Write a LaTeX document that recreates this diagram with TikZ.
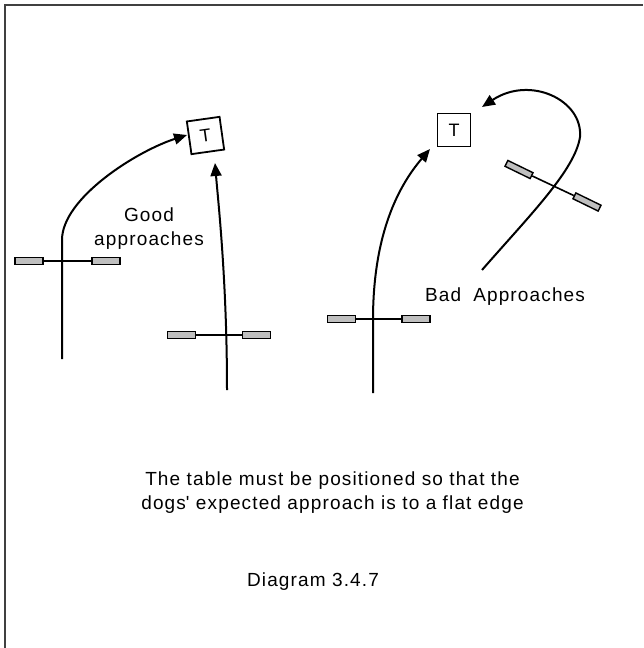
\documentclass[tikz,border=0pt]{standalone}
\usepackage{fontspec}
\setmainfont{Liberation Sans}
\usetikzlibrary{arrows.meta}
\begin{document}
\begin{tikzpicture}[x=1pt,y=-1pt,
  route/.style={line width=2pt, -{Triangle[length=13pt,width=11pt]}},
  slat/.style={draw, line width=1.4pt, fill=gray!50, minimum width=28pt, minimum height=6.5pt, inner sep=0pt},
  bar/.style={line width=1.6pt},
  tbl/.style={draw, line width=1.8pt, minimum size=33pt, inner sep=0pt, font=\fontsize{18}{20}\selectfont},
  lbl/.style={font=\fontsize{19}{24}\selectfont\addfontfeature{LetterSpace=6}, align=center, inner sep=0pt},
  frame/.style={line width=1.6pt, draw=black!75}
]
\useasboundingbox (0,0) rectangle (643,648);
\draw[frame] (5,648) -- (5,5) -- (643,5);

% tables
\node[tbl, rotate=8] (t1) at (205.5,135.5) {T};
\node[tbl] (t2) at (454,130) {T};

% jump 1
\node[slat] (j1a) at (29,261) {};
\node[slat] (j1b) at (106,261) {};
\draw[bar] (j1a.east) -- (j1b.west);
% jump 2
\node[slat] (j2a) at (181.5,335) {};
\node[slat] (j2b) at (256.5,335) {};
\draw[bar] (j2a.east) -- (j2b.west);
% jump 3
\node[slat] (j3a) at (341.5,319) {};
\node[slat] (j3b) at (416,319) {};
\draw[bar] (j3a.east) -- (j3b.west);
% jump 4 (rotated)
\node[slat, rotate=-26] (j4a) at (519,169.5) {};
\node[slat, rotate=-26] (j4b) at (587,202) {};
\draw[bar] (j4a.east) -- (j4b.west);

% arrow tips and starts
\coordinate (s1) at (62,359);
\coordinate (e1) at (187,135);
\coordinate (s2) at (227,390);
\coordinate (e2) at (215,163);
\coordinate (s3) at (373,393);
\coordinate (e3) at (430,149);
\coordinate (s4) at (482,270);
\coordinate (e4) at (482,107);

\draw[route] (s1) -- (62,240) .. controls (62,198) and (137,151) .. (e1);
\draw[route] (s2) .. controls (227,280) and (218,200) .. (e2);
\draw[route] (s3) -- (373,320) .. controls (373,240) and (395,190) .. (e3);
\draw[route] (s4) .. controls (530,215) and (575,170) .. (580,137)
  .. controls (583,100) and (530,75) .. (e4);

% labels
\node[lbl] (good) at (149,228.3) {Good\\approaches};
\node[lbl, anchor=base west] (bad) at (425,301.7) {Bad\hspace{12pt}Approaches};
\node[lbl] (note) at (332.5,492.8) {The table must be positioned so that the\\dogs\textquotesingle{} expected approach is to a flat edge};
\node[lbl, anchor=base] (cap) at (313,586) {Diagram 3.4.7};
\end{tikzpicture}
\end{document}
